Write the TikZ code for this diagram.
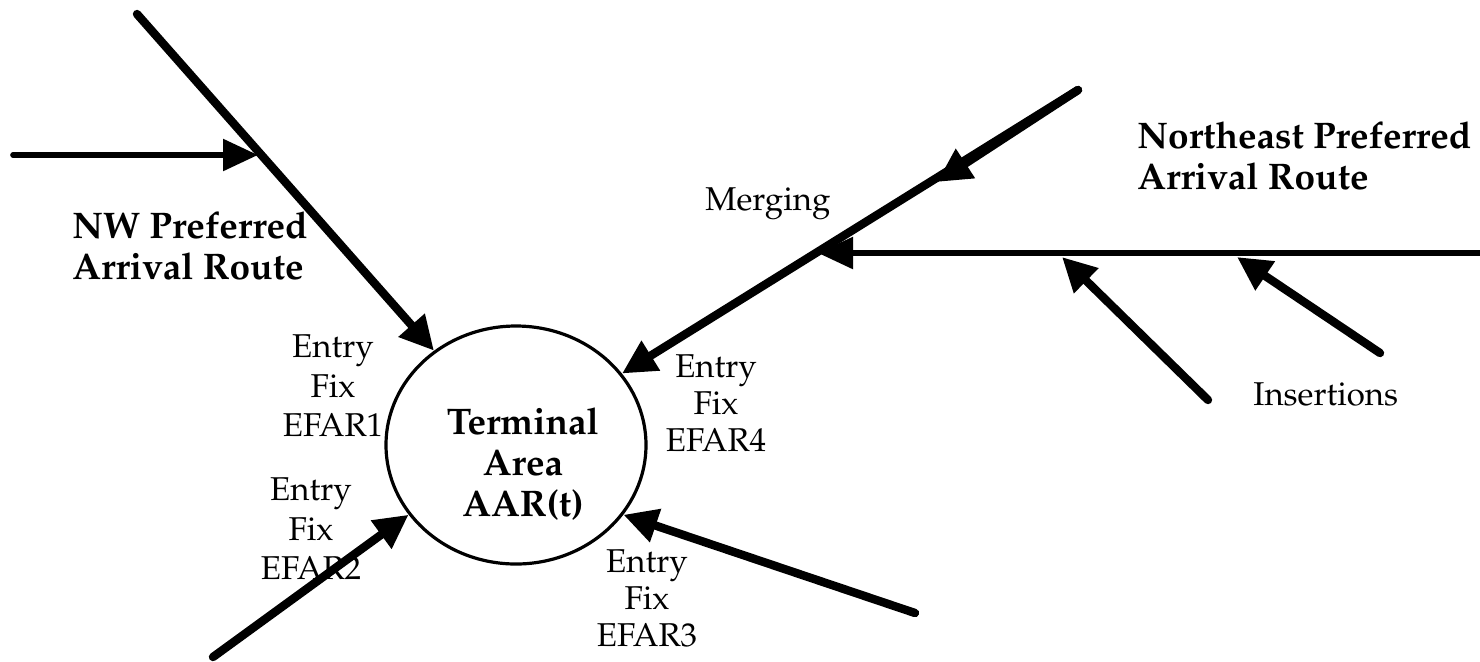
\documentclass[tikz,border=0pt]{standalone}
\usepackage[T1]{fontenc}
\usepackage{mathpazo}
\usetikzlibrary{arrows.meta,shapes.geometric}
\begin{document}
\begin{tikzpicture}[x=0.5pt,y=-0.5pt,
  route/.style={line width=4.2pt, line cap=round, -{Triangle[length=17pt,width=16.5pt]}},
  feeder/.style={line width=2.8pt, line cap=round, -{Triangle[length=17.5pt,width=15.5pt]}},
  lbl/.style={font=\fontsize{16.5}{18.5}\selectfont, align=center, inner sep=0pt},
  widelbl/.style={lbl, font=\fontsize{16.5}{19.8}\selectfont},
  routename/.style={font=\bfseries\fontsize{18.5}{20.5}\selectfont, align=left, inner sep=0pt},
  area/.style={draw, ellipse, line width=1.6pt, minimum width=130pt, minimum height=119pt, inner sep=0pt},
]
\path[use as bounding box] (0,0) rectangle (1480,661);

% terminal area
\node[area] (c) at (516,445) {};
\node[routename, align=center] (term) at (523,464) {Terminal\\Area\\AAR(t)};

% end points of the routes
\coordinate (nw0) at (137,14);
\coordinate (w0) at (13,155);
\coordinate (wtip) at (258,155);
\coordinate (sw0) at (213,657);
\coordinate (se0) at (915,613);
\coordinate (ne0) at (1078,90);
\coordinate (nemid) at (937,182);
\coordinate (e0) at (1484,253);
\coordinate (etip) at (818,253);
\coordinate (i10) at (1208,400);
\coordinate (i1tip) at (1062,257);
\coordinate (i20) at (1380,353);
\coordinate (i2tip) at (1237,257);

% routes into the terminal area
\draw[route] (nw0) -- (c.131);
\draw[feeder] (w0) -- (wtip);
\draw[route] (sw0) -- (c.213);
\draw[route] (se0) -- (c.-33);
\draw[route] (ne0) -- (c.34);
\draw[route] (ne0) -- (nemid);
\draw[feeder] (e0) -- (etip);
\draw[route] (i10) -- (i1tip);
\draw[route] (i20) -- (i2tip);

% labels
\node[widelbl] (efar1) at (333,386) {Entry\\Fix\\EFAR1};
\node[widelbl] (efar2) at (311,529) {Entry\\Fix\\EFAR2};
\node[lbl] (efar3) at (647,598) {Entry\\Fix\\EFAR3};
\node[lbl] (efar4) at (716,403) {Entry\\Fix\\EFAR4};
\node[lbl, anchor=base west] (merge) at (705,210) {Merging};
\node[lbl, anchor=base west] (ins) at (1253,405) {Insertions};
\node[routename, anchor=west] (nwname) at (72,246) {NW Preferred\\Arrival Route};
\node[routename, anchor=west] (nename) at (1137,156) {Northeast Preferred\\Arrival Route};
\end{tikzpicture}
\end{document}
